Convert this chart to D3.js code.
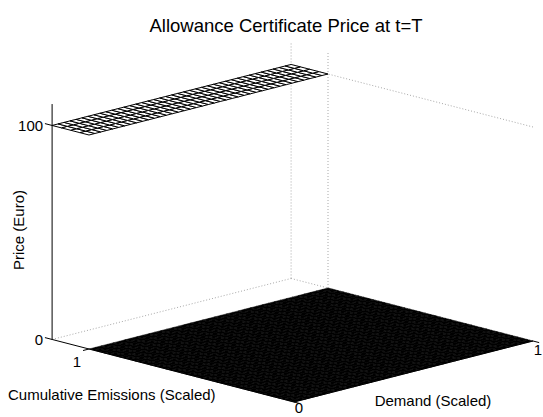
<!DOCTYPE html>
<html lang="en">
<head>
  <meta charset="UTF-8">
  <script type="text/javascript" src="https://cdn.jsdelivr.net/npm/d3@7/dist/d3.min.js"></script>
  <title>Allowance Certificate Price at t=T</title>
  <style type="text/css">
    * {
      margin: 0;
      padding: 0;
    }

    html, body {
      width: 100%;
      height: 100%;
      background-color: #fff;
    }

    svg text {
      font-family: "Liberation Sans", Arial, Helvetica, sans-serif;
      fill: #000;
    }
  </style>
</head>

<body>
<div id="box"></div>
</body>
<script type="text/javascript">
  // surface grid (scaled units)
  var demand = [0, 0.025, 0.05, 0.075, 0.1, 0.125, 0.15, 0.175, 0.2, 0.225, 0.25, 0.275, 0.3, 0.325, 0.35,
    0.375, 0.4, 0.425, 0.45, 0.475, 0.5, 0.525, 0.55, 0.575, 0.6, 0.625, 0.65, 0.675, 0.7, 0.725, 0.75,
    0.775, 0.8, 0.825, 0.85, 0.875, 0.9, 0.925, 0.95, 0.975, 1]
  var emissionsBelowCap = [0, 0.025, 0.05, 0.075, 0.1, 0.125, 0.15, 0.175, 0.2, 0.225, 0.25, 0.275, 0.3, 0.325, 0.35,
    0.375, 0.4, 0.425, 0.45, 0.475, 0.5, 0.525, 0.55, 0.575, 0.6, 0.625, 0.65, 0.675, 0.7, 0.725, 0.75,
    0.775, 0.8, 0.825, 0.85, 0.875, 0.9, 0.925, 0.95, 0.975, 1]
  var emissionsAboveCap = [1, 1.045, 1.09, 1.135, 1.18]

  // price on each part of the surface (Euro)
  var priceBelowCap = 0
  var priceAboveCap = 100

  // axes
  var demandLim = [0, 1]
  var emissionsLim = [0, 1.18]
  var priceLim = [0, 110]
  var demandTicks = [0, 1]
  var emissionsTicks = [1]
  var priceTicks = [0, 100]

  var width = 543
  var height = 417
  var svg = d3.select('#box')
    .append('svg')
    .attr('width', width)
    .attr('height', height)

  // orthographic 3d view: front corner of the box is the origin
  var origin = [294, 402]
  var demandX = d3.scaleLinear().domain([0, 1]).range([0, 239])
  var demandY = d3.scaleLinear().domain([0, 1]).range([0, -61])
  var emissionsX = d3.scaleLinear().domain([0, 1]).range([0, -205])
  var emissionsY = d3.scaleLinear().domain([0, 1]).range([0, -53])
  var priceY = d3.scaleLinear().domain([0, 100]).range([0, -214])

  function proj(d, e, z) {
    return [origin[0] + demandX(d) + emissionsX(e),
      origin[1] + demandY(d) + emissionsY(e) + priceY(z)]
  }

  var line = d3.line()
  var dMin = demandLim[0], dMax = demandLim[1]
  var eMin = emissionsLim[0], eMax = emissionsLim[1]
  var zMin = priceLim[0], zMax = priceLim[1]

  // dotted grid on the back walls
  var gridLines = []
  demandTicks.forEach(function (t) {
    if (t > dMin) gridLines.push([[t, eMax, zMin], [t, eMax, zMax]])
  })
  emissionsTicks.forEach(function (t) {
    gridLines.push([[dMax, t, zMin], [dMax, t, zMax]])
  })
  priceTicks.forEach(function (t) {
    gridLines.push([[dMin, eMax, t], [dMax, eMax, t]])
    gridLines.push([[dMax, eMin, t], [dMax, eMax, t]])
  })

  svg.append('g')
    .selectAll('path')
    .data(gridLines)
    .enter()
    .append('path')
    .attr('d', function (g) {
      return line(g.map(function (q) { return proj(q[0], q[1], q[2]) }))
    })
    .attr('fill', 'none')
    .attr('stroke', '#a8a8a8')
    .attr('stroke-width', 1)
    .attr('stroke-dasharray', '1,2')

  // axis lines
  var axisLines = [
    [[dMin, eMax, zMin], [dMin, eMax, zMax]],
    [[dMin, eMin, zMin], [dMin, eMax, zMin]],
    [[dMin, eMin, zMin], [dMax, eMin, zMin]]
  ]
  svg.append('g')
    .selectAll('path')
    .data(axisLines)
    .enter()
    .append('path')
    .attr('d', function (g) {
      return line(g.map(function (q) { return proj(q[0], q[1], q[2]) }))
    })
    .attr('fill', 'none')
    .attr('stroke', '#000')
    .attr('stroke-width', 1)

  // tick marks
  var tickMarks = []
  priceTicks.forEach(function (t) {
    tickMarks.push([proj(dMin, eMax, t), proj(dMin, eMax + 0.035, t)])
  })
  emissionsTicks.forEach(function (t) {
    tickMarks.push([proj(dMin, t, zMin), proj(dMin - 0.025, t, zMin)])
  })
  demandTicks.forEach(function (t) {
    tickMarks.push([proj(t, eMin, zMin), proj(t, eMin - 0.03, zMin)])
  })
  svg.append('g')
    .selectAll('path')
    .data(tickMarks)
    .enter()
    .append('path')
    .attr('d', function (g) { return line(g) })
    .attr('stroke', '#000')
    .attr('stroke-width', 1)

  // build the surface cells
  function cells(ds, es, z) {
    var out = []
    for (var i = 0; i < ds.length - 1; i++) {
      for (var j = 0; j < es.length - 1; j++) {
        out.push([
          proj(ds[i], es[j], z), proj(ds[i + 1], es[j], z),
          proj(ds[i + 1], es[j + 1], z), proj(ds[i], es[j + 1], z)
        ])
      }
    }
    return out
  }

  // price 0 part (dark end of the gray colormap)
  svg.append('g')
    .selectAll('path')
    .data(cells(demand, emissionsBelowCap, priceBelowCap))
    .enter()
    .append('path')
    .attr('d', function (c) { return line(c) + 'Z' })
    .attr('fill', '#000')
    .attr('stroke', '#000')
    .attr('stroke-width', 0.5)

  // price 100 part (white faces)
  svg.append('g')
    .selectAll('path')
    .data(cells(demand, emissionsAboveCap, priceAboveCap))
    .enter()
    .append('path')
    .attr('d', function (c) { return line(c) + 'Z' })
    .attr('fill', '#fff')
    .attr('stroke', '#000')
    .attr('stroke-width', 1)

  // tick labels
  svg.append('g')
    .selectAll('text')
    .data(priceTicks)
    .enter()
    .append('text')
    .attr('x', function (t) { return proj(dMin, eMax, t)[0] - 9 })
    .attr('y', function (t) { return proj(dMin, eMax, t)[1] + 5.5 })
    .attr('text-anchor', 'end')
    .style('font-size', '15px')
    .text(function (t) { return t })

  svg.append('g')
    .selectAll('text')
    .data(emissionsTicks)
    .enter()
    .append('text')
    .attr('x', function (t) { return proj(dMin, t, zMin)[0] - 12 })
    .attr('y', function (t) { return proj(dMin, t, zMin)[1] + 18 })
    .attr('text-anchor', 'middle')
    .style('font-size', '15px')
    .text(function (t) { return t })

  svg.append('g')
    .selectAll('text')
    .data(demandTicks)
    .enter()
    .append('text')
    .attr('x', function (t) { return proj(t, eMin, zMin)[0] + 5 })
    .attr('y', function (t) { return Math.min(proj(t, eMin, zMin)[1] + 14, 413) })
    .attr('text-anchor', 'middle')
    .style('font-size', '15px')
    .text(function (t) { return t })

  // axis labels and title
  svg.append('text')
    .attr('x', 286)
    .attr('y', 32)
    .attr('text-anchor', 'middle')
    .style('font-size', '18.5px')
    .text('Allowance Certificate Price at t=T')

  svg.append('text')
    .attr('transform', 'translate(24,230) rotate(-90)')
    .attr('text-anchor', 'middle')
    .style('font-size', '15px')
    .text('Price (Euro)')

  svg.append('text')
    .attr('x', 8)
    .attr('y', 400)
    .style('font-size', '15px')
    .text('Cumulative Emissions (Scaled)')

  svg.append('text')
    .attr('x', 433)
    .attr('y', 406)
    .attr('text-anchor', 'middle')
    .style('font-size', '15px')
    .text('Demand (Scaled)')
</script>
</html>
